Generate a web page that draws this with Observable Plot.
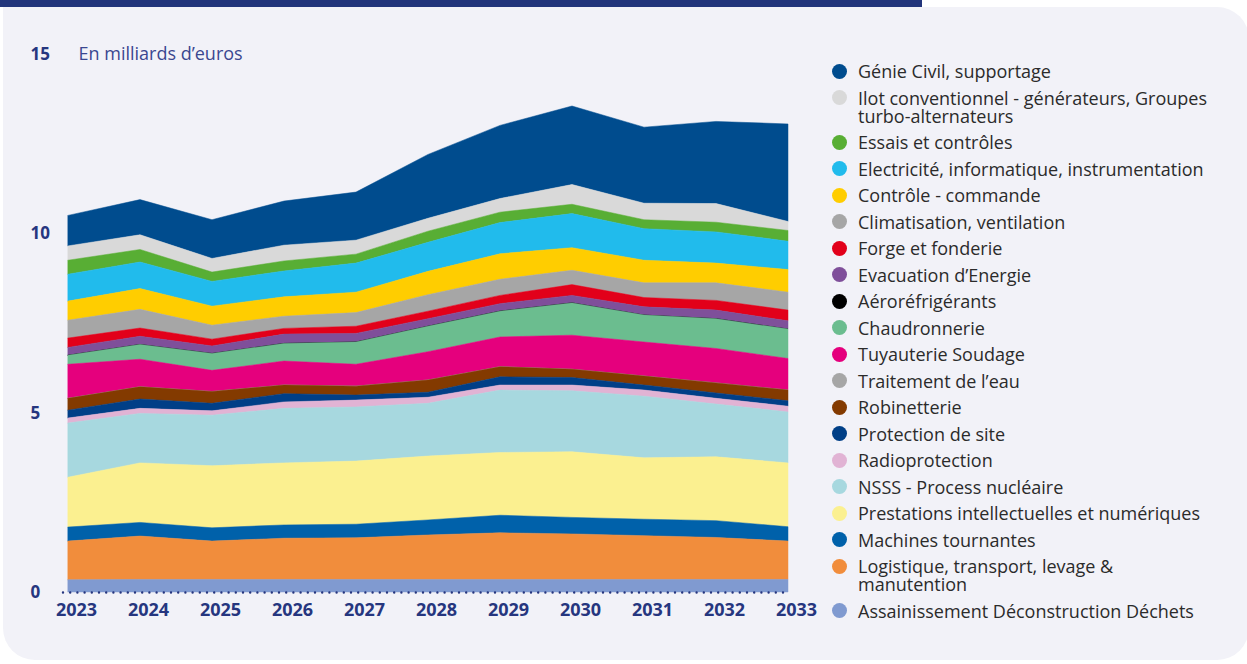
<!DOCTYPE html>
<html><head><meta charset="utf-8">
<script src="https://cdn.jsdelivr.net/npm/d3@7"></script>
<script src="https://cdn.jsdelivr.net/npm/@observablehq/plot@0.6"></script>
<style>
html,body{margin:0;padding:0;background:#fff;}
#wrap{position:relative;width:1247px;height:664px;overflow:hidden;background:#fff;font-family:"Open Sans",sans-serif;}
#panel{position:absolute;left:3px;top:7px;width:1246px;height:653px;background:#f2f2f8;border-radius:0 32px 32px 32px;}
#bar{position:absolute;left:0;top:0;width:922px;height:7px;background:#22357b;}
#chart{position:absolute;left:0;top:0;}
#legend{position:absolute;left:832px;top:62px;}
.item{display:flex;align-items:flex-start;margin-bottom:8.5px;}
.dot{width:15px;height:15px;border-radius:50%;margin-top:1.5px;margin-right:11px;flex:none;}
.lab{font-size:18px;line-height:18px;color:#2b2b2b;white-space:pre-line;}
#chart svg [aria-label="x-axis tick label"] text, #chart svg [aria-label="y-axis tick label"] text{font-weight:bold;}
</style>
</head><body>
<div id="wrap">
  <div id="panel"></div>
  <div id="bar"></div>
  <div id="chart"></div>
  <div id="legend"></div>
</div>
<script>
const years = [2023, 2024, 2025, 2026, 2027, 2028, 2029, 2030, 2031, 2032, 2033];

const genieCivil       = [0.85, 0.98, 1.08, 1.23, 1.34, 1.78, 2.04, 2.19, 2.12, 2.29, 2.72];
const ilot             = [0.40, 0.41, 0.38, 0.44, 0.39, 0.36, 0.38, 0.55, 0.46, 0.52, 0.25];
const essais           = [0.39, 0.35, 0.26, 0.28, 0.25, 0.31, 0.29, 0.26, 0.25, 0.27, 0.30];
const electricite      = [0.75, 0.74, 0.69, 0.72, 0.81, 0.81, 0.87, 0.95, 0.88, 0.87, 0.79];
const controle         = [0.53, 0.58, 0.53, 0.54, 0.57, 0.65, 0.71, 0.63, 0.63, 0.55, 0.63];
const climatisation    = [0.50, 0.52, 0.39, 0.34, 0.38, 0.46, 0.45, 0.40, 0.41, 0.49, 0.50];
const forge            = [0.26, 0.23, 0.19, 0.16, 0.20, 0.21, 0.23, 0.30, 0.26, 0.27, 0.30];
const evacuation       = [0.22, 0.23, 0.21, 0.26, 0.24, 0.21, 0.21, 0.21, 0.23, 0.24, 0.23];
const aerorefrigerants = [0, 0, 0, 0, 0, 0, 0, 0, 0, 0, 0];
const chaudronnerie    = [0.25, 0.41, 0.47, 0.49, 0.62, 0.71, 0.72, 0.90, 0.75, 0.83, 0.82];
const tuyauterie       = [0.95, 0.77, 0.59, 0.67, 0.61, 0.79, 0.83, 0.95, 0.95, 0.96, 0.88];
const traitementEau    = [0, 0, 0, 0, 0, 0, 0, 0, 0, 0, 0];
const robinetterie     = [0.33, 0.34, 0.33, 0.24, 0.25, 0.34, 0.28, 0.23, 0.25, 0.28, 0.30];
const protectionSite   = [0.22, 0.26, 0.21, 0.23, 0.14, 0.14, 0.23, 0.21, 0.14, 0.15, 0.15];
const radioprotection  = [0.14, 0.14, 0.12, 0.18, 0.19, 0.17, 0.14, 0.16, 0.17, 0.16, 0.16];
const nsss             = [1.51, 1.38, 1.41, 1.52, 1.51, 1.47, 1.74, 1.70, 1.72, 1.47, 1.42];
const prestations      = [1.39, 1.66, 1.73, 1.73, 1.76, 1.78, 1.75, 1.83, 1.71, 1.78, 1.78];
const machines         = [0.39, 0.38, 0.37, 0.37, 0.38, 0.42, 0.49, 0.46, 0.46, 0.47, 0.40];
const logistique       = [1.08, 1.21, 1.07, 1.15, 1.16, 1.24, 1.30, 1.27, 1.22, 1.17, 1.07];
const assainissement   = [0.34, 0.35, 0.35, 0.35, 0.35, 0.35, 0.35, 0.35, 0.35, 0.35, 0.35];

// legend order (top to bottom); stack order is the reverse
const seriesNames = [
  "Génie Civil, supportage",
  "Ilot conventionnel - générateurs, Groupes\nturbo-alternateurs",
  "Essais et contrôles",
  "Electricité, informatique, instrumentation",
  "Contrôle - commande",
  "Climatisation, ventilation",
  "Forge et fonderie",
  "Evacuation d’Energie",
  "Aéroréfrigérants",
  "Chaudronnerie",
  "Tuyauterie Soudage",
  "Traitement de l’eau",
  "Robinetterie",
  "Protection de site",
  "Radioprotection",
  "NSSS - Process nucléaire",
  "Prestations intellectuelles et numériques",
  "Machines tournantes",
  "Logistique, transport, levage &\nmanutention",
  "Assainissement Déconstruction Déchets"
];
const seriesValues = [genieCivil, ilot, essais, electricite, controle, climatisation, forge, evacuation,
  aerorefrigerants, chaudronnerie, tuyauterie, traitementEau, robinetterie, protectionSite, radioprotection,
  nsss, prestations, machines, logistique, assainissement];
const seriesColors = ["#004c8e", "#d9d9d9", "#58ae34", "#21bbec", "#ffcd00", "#a6a6a6", "#e2001a", "#7f4f9a",
  "#000000", "#6bbd8f", "#e5007d", "#a6a6a6", "#833a00", "#003f87", "#e1b3d4", "#a7d8df", "#fbf090",
  "#0061aa", "#f18d3c", "#809ad0"];

const navy = "#26367f";
const rows = [];
seriesNames.forEach((name, i) => {
  years.forEach((yr, j) => rows.push({year: yr, series: name, value: seriesValues[i][j]}));
});
const stackOrder = seriesNames.slice().reverse();

const chart = Plot.plot({
  width: 830,
  height: 640,
  marginLeft: 68,
  marginRight: 42,
  marginTop: 54,
  marginBottom: 48,
  style: {background: "transparent", fontFamily: "'Open Sans', sans-serif", overflow: "visible"},
  x: {domain: [2023, 2033], label: null},
  y: {domain: [0, 15], label: null},
  color: {domain: seriesNames, range: seriesColors},
  marks: [
    Plot.areaY(rows, {x: "year", y: "value", z: "series", fill: "series", stroke: "series", strokeWidth: 0.5, order: stackOrder}),
    Plot.ruleY([0], {stroke: navy, strokeWidth: 2.4, strokeDasharray: "0 7.2", strokeLinecap: "round", insetLeft: -5}),
    Plot.axisX({ticks: years, tickFormat: d => String(d), tickSize: 0, tickPadding: 11, dx: 8, fontSize: 18, color: navy, label: null}),
    Plot.axisY({ticks: [0, 5, 10, 15], tickSize: 0, tickPadding: 38, textAnchor: "start", fontSize: 17, color: navy, label: null}),
    Plot.text(["En milliards d’euros"], {x: () => 2023, y: () => 15, text: d => d, textAnchor: "start", dx: 10, fontSize: 18, fill: "#3a4790"})
  ]
});
document.getElementById("chart").appendChild(chart);

const legend = document.getElementById("legend");
seriesNames.forEach((name, i) => {
  const item = document.createElement("div");
  item.className = "item";
  const dot = document.createElement("span");
  dot.className = "dot";
  dot.style.background = seriesColors[i];
  const lab = document.createElement("span");
  lab.className = "lab";
  lab.textContent = name;
  item.appendChild(dot);
  item.appendChild(lab);
  legend.appendChild(item);
});
</script>
</body></html>
